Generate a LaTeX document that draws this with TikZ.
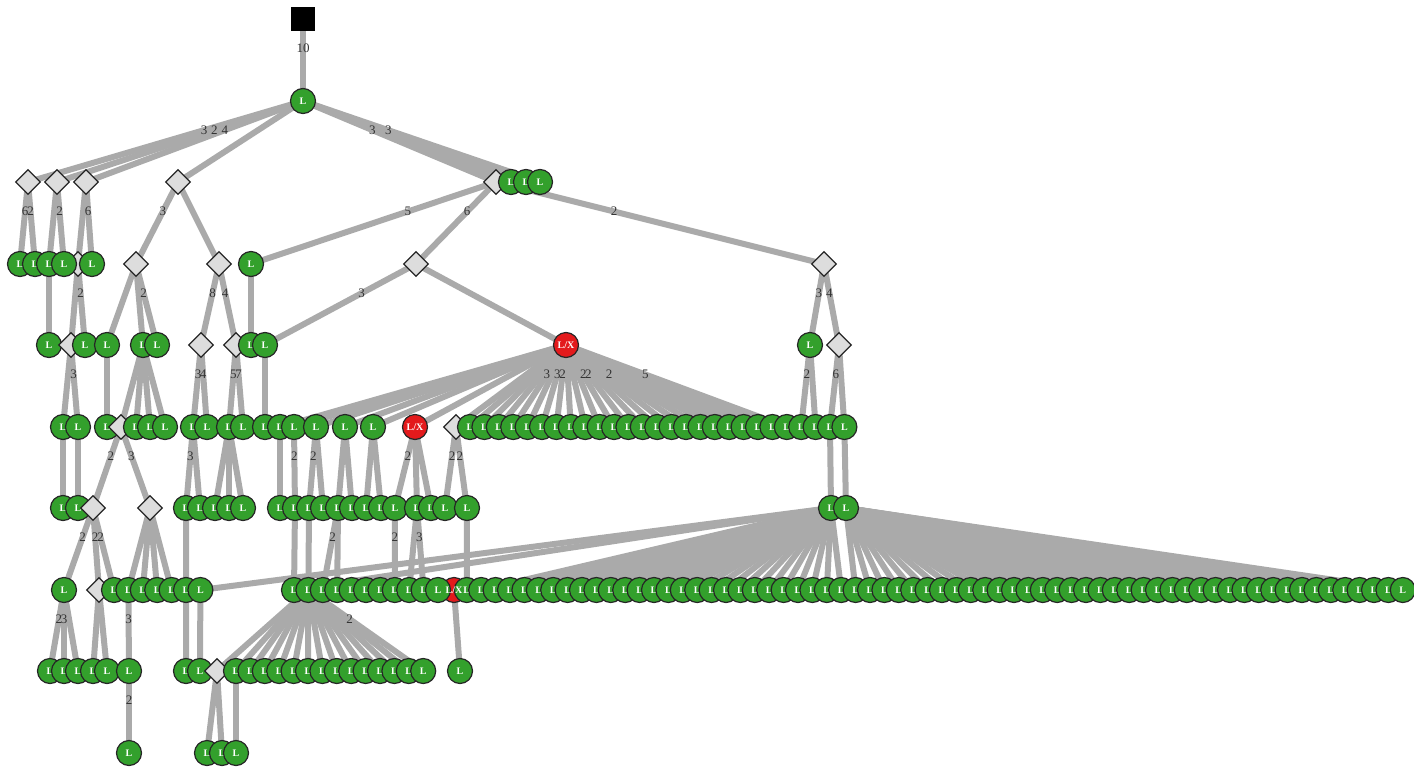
\documentclass[tikz,border=0pt]{standalone}
\usepackage{fontspec}
\setmainfont{Liberation Serif}
\usetikzlibrary{shapes.geometric, backgrounds}
\definecolor{leafGreen}{RGB}{51,160,44}
\definecolor{flagRed}{RGB}{227,26,28}
\definecolor{linkGray}{RGB}{170,170,170}
\definecolor{choiceGray}{RGB}{221,221,221}

\begin{document}
\begin{tikzpicture}[x=1pt, y=-1pt,
    leaf/.style={circle, draw=black!85, line width=1.2pt, fill=leafGreen, text=white, font=\fontsize{10}{10}\selectfont\bfseries, minimum size=25pt, inner sep=0pt},
    flag/.style={leaf, fill=flagRed},
    choice/.style={diamond, draw=black!85, line width=1.2pt, fill=choiceGray, minimum width=25pt, minimum height=25pt, inner sep=0pt},
    rootbox/.style={rectangle, fill=black, minimum size=24pt, inner sep=0pt},
    link/.style={draw=linkGray, line width=6pt},
    lbl/.style={pos=.36, inner sep=0pt, text=black!80, font=\fontsize{13}{13}\selectfont}
]
    \useasboundingbox (0,0) rectangle (1414,766);

    % levels 0-2
    \node[rootbox] (top) at (303,19) {};
    \node[leaf] (l1) at (303,101) {L};
    \node[choice] (d2a) at (28,182) {};
    \node[choice] (d2b) at (57,182) {};
    \node[choice] (d2c) at (86,182) {};
    \node[choice] (d2d) at (178,182) {};
    \node[choice] (d2e) at (496,182) {};
    \node[leaf] (l2a) at (511,182) {L};
    \node[leaf] (l2b) at (526,182) {L};
    \node[leaf] (l2c) at (540,182) {L};

    % level 3
    \node[leaf] (l3a) at (20,264) {L};
    \node[leaf] (l3b) at (35,264) {L};
    \node[leaf] (l3c) at (49,264) {L};
    \node[choice] (d3a) at (78,264) {};
    \node[leaf] (l3d) at (64,264) {L};
    \node[leaf] (l3e) at (92,264) {L};
    \node[choice] (d3b) at (136,264) {};
    \node[choice] (d3c) at (219,264) {};
    \node[leaf] (l3f) at (251,264) {L};
    \node[choice] (d3d) at (416,264) {};
    \node[choice] (d3e) at (824,264) {};

    % level 4
    \node[leaf] (l4a) at (49,345) {L};
    \node[choice] (d4a) at (71,345) {};
    \node[leaf] (l4b) at (85,345) {L};
    \node[leaf] (l4c) at (107,345) {L};
    \node[leaf] (l4d) at (143,345) {L};
    \node[leaf] (l4e) at (157,345) {L};
    \node[choice] (d4b) at (201,345) {};
    \node[choice] (d4c) at (236,345) {};
    \node[leaf] (l4f) at (251,345) {L};
    \node[leaf] (l4g) at (265,345) {L};
    \node[flag] (x4) at (566,345) {L/X};
    \node[leaf] (l4h) at (810,345) {L};
    \node[choice] (d4d) at (839,345) {};

    % level 5
    \node[leaf] (l5a) at (63,427) {L};
    \node[leaf] (l5b) at (78,427) {L};
    \node[leaf] (l5c) at (107,427) {L};
    \node[choice] (d5a) at (121,427) {};
    \node[leaf] (l5d) at (136,427) {L};
    \node[leaf] (l5e) at (150,427) {L};
    \node[leaf] (l5f) at (165,427) {L};
    \node[leaf] (l5g) at (193,427) {L};
    \node[leaf] (l5h) at (207,427) {L};
    \node[leaf] (l5i) at (229,427) {L};
    \node[leaf] (l5j) at (243,427) {L};
    \node[leaf] (l5k) at (265,427) {L};
    \node[leaf] (l5l) at (280,427) {L};
    \node[leaf] (l5m) at (294,427) {L};
    \node[leaf] (l5n) at (316,427) {L};
    \node[leaf] (l5o) at (345,427) {L};
    \node[leaf] (l5p) at (373,427) {L};
    \node[flag] (x5) at (415,427) {L/X};
    \node[choice] (d5b) at (456,427) {};
    \foreach \i in {0,...,26}
        \node[leaf] (r5-\i) at ({470+14.4*\i},427) {L};

    % level 6
    \node[leaf] (l6a) at (63,508) {L};
    \node[leaf] (l6b) at (78,508) {L};
    \node[choice] (d6a) at (93,508) {};
    \node[choice] (d6b) at (150,508) {};
    \node[leaf] (l6c) at (186,508) {L};
    \node[leaf] (l6d) at (200,508) {L};
    \node[leaf] (l6e) at (215,508) {L};
    \node[leaf] (l6f) at (229,508) {L};
    \node[leaf] (l6g) at (243,508) {L};
    \foreach \x [count=\i] in {280,295,309,323,338,352,366,381,395,417,431,445,467}
        \node[leaf] (r6-\i) at (\x,508) {L};
    \node[leaf] (l6h) at (831,508) {L};
    \node[leaf] (l6i) at (846,508) {L};

    % level 7
    \node[leaf] (l7a) at (64,590) {L};
    \node[choice] (d7a) at (99,590) {};
    \foreach \i in {0,...,6}
        \node[leaf] (s7-\i) at ({114+14.4*\i},590) {L};
    \node[flag] (r7-11) at (454,590) {};
    \foreach \i in {0,...,10,12,13,...,77}
        \node[leaf] (r7-\i) at ({294+14.4*\i},590) {L};
    \path (r7-11) node[text=white, font=\fontsize{10}{10}\selectfont\bfseries] {L/X};

    % level 8
    \foreach \x [count=\i] in {50,64,78,93,107}
        \node[leaf] (q8-\i) at (\x,671) {L};
    \node[leaf] (l8a) at (129,671) {L};
    \node[leaf] (l8b) at (186,671) {L};
    \node[leaf] (l8c) at (200,671) {L};
    \node[choice] (d8a) at (217,671) {};
    \foreach \i in {0,...,13}
        \node[leaf] (r8-\i) at ({236+14.4*\i},671) {L};
    \node[leaf] (l8d) at (460,671) {L};

    % level 9
    \node[leaf] (l9a) at (129,753) {L};
    \node[leaf] (l9b) at (207,753) {L};
    \node[leaf] (l9c) at (222,753) {L};
    \node[leaf] (l9d) at (236,753) {L};

    \begin{pgfonlayer}{background}
        \foreach \p/\c in {top/l1,
            l1/d2a, l1/d2b, l1/d2c, l1/d2d, l1/d2e, l1/l2a, l1/l2b, l1/l2c,
            d2a/l3a, d2a/l3b, d2b/l3c, d2b/l3d, d2c/d3a, d2c/l3e, d2d/d3b, d2d/d3c,
            d2e/l3f, d2e/d3d, d2e/d3e,
            l3c/l4a, d3a/d4a, d3a/l4b, d3b/l4c, d3b/l4d, d3b/l4e, d3c/d4b, d3c/d4c,
            l3f/l4f, d3d/l4g, d3d/x4, d3e/l4h, d3e/d4d,
            d4a/l5a, d4a/l5b, l4c/l5c, l4d/d5a, l4d/l5d, l4d/l5e, l4d/l5f, d4b/l5g, d4b/l5h,
            d4c/l5i, d4c/l5j, l4g/l5k, x4/l5l, x4/l5m, x4/l5n, x4/l5o, x4/l5p, x4/x5, x4/d5b,
            l4h/r5-23, l4h/r5-24, d4d/r5-25, d4d/r5-26,
            l5a/l6a, l5b/l6b, d5a/d6a, d5a/d6b, l5g/l6c, l5g/l6d, l5i/l6e, l5i/l6f, l5i/l6g,
            l5l/r6-1, l5m/r6-2, l5n/r6-3, l5n/r6-4, l5o/r6-5, l5o/r6-6, l5p/r6-7, l5p/r6-8,
            x5/r6-9, x5/r6-10, x5/r6-11, d5b/r6-12, d5b/r6-13, r5-25/l6h, r5-26/l6i,
            d6a/l7a, d6a/d7a, d6a/s7-0, d6b/s7-1, d6b/s7-2, d6b/s7-3, d6b/s7-4, l6c/s7-5,
            l6h/s7-6, l6h/r7-0, r6-2/r7-0, r6-3/r7-1, r6-5/r7-2, r6-5/r7-3, r6-9/r7-7,
            r6-10/r7-8, r6-10/r7-9, r6-13/r7-12,
            l7a/q8-1, l7a/q8-2, l7a/q8-3, d7a/q8-4, d7a/q8-5, s7-1/l8a, s7-5/l8b, s7-6/l8c,
            r7-1/d8a, r7-11/l8d,
            l8a/l9a, d8a/l9b, d8a/l9c, r8-0/l9d}
            \draw[link] (\p.center) -- (\c.center);
        \foreach \i in {0,...,22}
            \draw[link] (x4.center) -- (r5-\i.center);
        \foreach \i in {13,...,38}
            \draw[link] (l6h.center) -- (r7-\i.center);
        \foreach \i in {39,...,77}
            \draw[link] (l6i.center) -- (r7-\i.center);
        \foreach \i in {0,...,13}
            \draw[link] (r7-1.center) -- (r8-\i.center);

        % edge labels
        \foreach \p/\c/\t in {top/l1/10, l1/d2a/3, l1/d2b/2, l1/d2c/4, l1/d2e/3, l1/l2c/3,
            d2a/l3a/6, d2a/l3b/2, d2b/l3d/2, d2c/l3e/6, d2d/d3b/3, d2e/l3f/5, d2e/d3d/6, d2e/d3e/2,
            d3a/l4b/2, d3b/l4e/2, d3c/d4b/8, d3c/d4c/4, d3d/l4g/3, d3e/l4h/3, d3e/d4d/4,
            d4a/l5b/3, d4b/l5g/3, d4b/l5h/4, d4c/l5i/5, d4c/l5j/7,
            x4/r5-3/3, x4/r5-5/3, x4/r5-6/2, x4/r5-10/2, x4/r5-11/2, x4/r5-15/2, x4/r5-22/5,
            l4h/r5-23/2, d4d/r5-25/6,
            d5a/d6a/2, d5a/d6b/3, l5g/l6c/3, l5m/r6-2/2, l5n/r6-3/2, x5/r6-9/2,
            d5b/r6-12/2, d5b/r6-13/2,
            d6a/l7a/2, d6a/d7a/2, d6a/s7-0/2, r6-5/r7-2/2, r6-9/r7-7/2, r6-10/r7-9/3,
            l7a/q8-1/2, l7a/q8-2/3, s7-1/l8a/3, r7-1/r8-13/2, l8a/l9a/2}
            \path (\p.center) -- (\c.center) node[lbl] {\t};
    \end{pgfonlayer}
\end{tikzpicture}
\end{document}
